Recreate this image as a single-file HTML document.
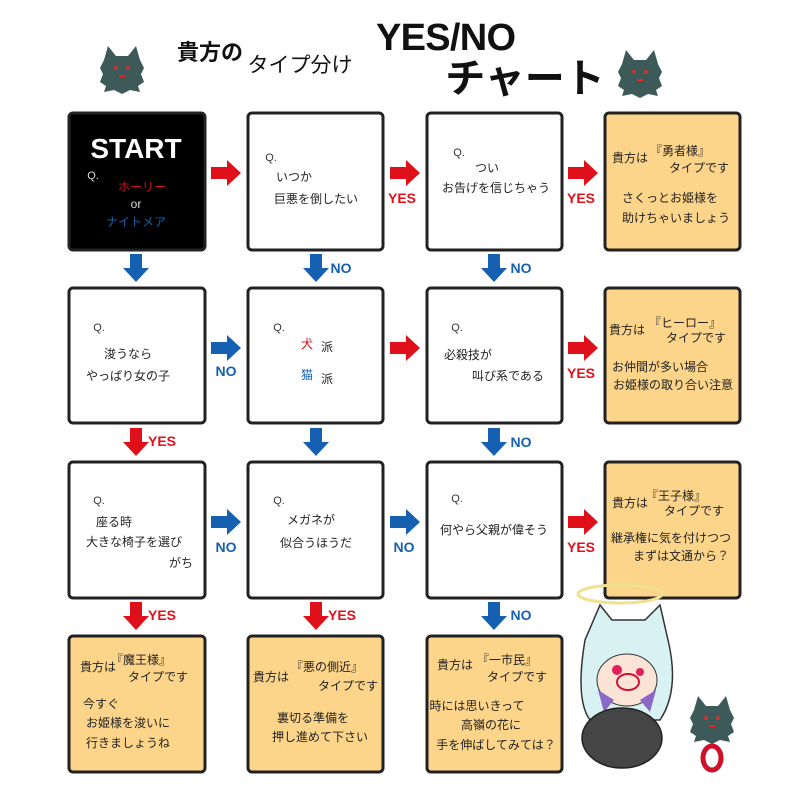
<!DOCTYPE html>
<html><head><meta charset="utf-8"><style>
html,body{margin:0;padding:0;background:#fff;}
svg{display:block}
text{font-family:"Liberation Sans","Noto Sans CJK JP",sans-serif;}
.t{font-size:12px;fill:#222;text-anchor:middle}
.q{font-size:11px;fill:#333;text-anchor:middle}
.y{font-size:14px;font-weight:bold;fill:#e0101a;text-anchor:middle}
.n{font-size:14px;font-weight:bold;fill:#1560b0;text-anchor:middle}
</style></head><body>
<svg width="800" height="800" viewBox="0 0 800 800" xmlns="http://www.w3.org/2000/svg">
<defs>
<g id="ar"><path d="M0,-6 H16 V-13 L30,0 L16,13 V6 H0 Z"/></g>
<g id="ad"><path d="M-6,0 V14 H-13 L0,28 L13,14 H6 V0 Z"/></g>
<g id="cat">
<path d="M-18,-12 L-14,-26 L-6,-16 L6,-16 L14,-26 L18,-12 L22,-4 L19,2 L22,10 L16,14 L18,20 L8,18 L0,22 L-8,18 L-18,20 L-16,14 L-22,10 L-19,2 L-22,-4 Z" fill="#3d5a58"/>
<circle cx="-6" cy="-4" r="2" fill="#c33"/><circle cx="6" cy="-4" r="2" fill="#c33"/>
<rect x="-3" y="3" width="6" height="2" fill="#e22"/>
</g>
</defs>
<!-- title -->
<text x="210" y="60" style="font-size:22px;font-weight:bold;text-anchor:middle;fill:#111">貴方の</text>
<text x="300" y="72" style="font-size:21px;text-anchor:middle;fill:#111">タイプ分け</text>
<text x="446" y="50" style="font-size:38px;font-weight:bold;text-anchor:middle;fill:#111" textLength="140">YES/NO</text>
<text x="525" y="92" style="font-size:40px;font-weight:bold;text-anchor:middle;fill:#111">チャート</text>
<use href="#cat" x="122" y="72"/>
<use href="#cat" x="640" y="76"/>
<use href="#cat" x="712" y="722"/>
<!-- boxes -->
<g stroke="#222" stroke-width="3">
<rect x="69" y="113" width="136" height="137" rx="4" fill="#000"/>
<rect x="248" y="113" width="135" height="137" rx="4" fill="#fff"/>
<rect x="427" y="113" width="135" height="137" rx="4" fill="#fff"/>
<rect x="605" y="113" width="135" height="137" rx="4" fill="#fcd48a"/>
<rect x="69" y="288" width="136" height="135" rx="4" fill="#fff"/>
<rect x="248" y="288" width="135" height="135" rx="4" fill="#fff"/>
<rect x="427" y="288" width="135" height="135" rx="4" fill="#fff"/>
<rect x="605" y="288" width="135" height="135" rx="4" fill="#fcd48a"/>
<rect x="69" y="462" width="136" height="136" rx="4" fill="#fff"/>
<rect x="248" y="462" width="135" height="136" rx="4" fill="#fff"/>
<rect x="427" y="462" width="135" height="136" rx="4" fill="#fff"/>
<rect x="605" y="462" width="135" height="136" rx="4" fill="#fcd48a"/>
<rect x="69" y="636" width="136" height="136" rx="4" fill="#fcd48a"/>
<rect x="248" y="636" width="135" height="136" rx="4" fill="#fcd48a"/>
<rect x="427" y="636" width="135" height="136" rx="4" fill="#fcd48a"/>
</g>
<!-- arrows -->
<g fill="#e0101a">
<use href="#ar" x="211" y="173"/><use href="#ar" x="390" y="173"/><use href="#ar" x="568" y="173"/>
<use href="#ar" x="390" y="348"/><use href="#ar" x="568" y="348"/>
<use href="#ar" x="568" y="522"/>
<use href="#ad" x="136" y="428"/>
<use href="#ad" x="136" y="602"/><use href="#ad" x="316" y="602"/>
</g>
<g fill="#1560b0">
<use href="#ad" x="136" y="254"/><use href="#ad" x="316" y="254"/><use href="#ad" x="494" y="254"/>
<use href="#ar" x="211" y="348"/>
<use href="#ad" x="316" y="428"/><use href="#ad" x="494" y="428"/>
<use href="#ar" x="211" y="522"/><use href="#ar" x="390" y="522"/>
<use href="#ad" x="494" y="602"/>
</g>
<text class="y" x="402" y="203">YES</text><text class="y" x="581" y="203">YES</text>
<text class="n" x="341" y="273">NO</text><text class="n" x="521" y="273">NO</text>
<text class="n" x="226" y="376">NO</text><text class="y" x="581" y="378">YES</text>
<text class="y" x="162" y="446">YES</text><text class="n" x="521" y="447">NO</text>
<text class="n" x="226" y="552">NO</text><text class="n" x="404" y="552">NO</text><text class="y" x="581" y="552">YES</text>
<text class="y" x="162" y="620">YES</text><text class="y" x="342" y="620">YES</text><text class="n" x="521" y="620">NO</text>
<!-- row1 -->
<text x="136" y="158" style="font-size:28px;font-weight:bold;fill:#fff;text-anchor:middle">START</text>
<text class="q" x="93" y="179" style="fill:#ddd">Q.</text>
<text class="t" x="142" y="191" style="fill:#d0101a">ホーリー</text>
<text class="t" x="136" y="208" style="fill:#ddd">or</text>
<text class="t" x="136" y="226" style="fill:#1560b0">ナイトメア</text>
<text class="q" x="271" y="161">Q.</text>
<text class="t" x="294" y="181">いつか</text>
<text class="t" x="316" y="203">巨悪を倒したい</text>
<text class="q" x="459" y="156">Q.</text>
<text class="t" x="487" y="172">つい</text>
<text class="t" x="496" y="192">お告げを信じちゃう</text>
<text class="t" x="630" y="162">貴方は</text>
<text class="t" x="680" y="155">『勇者様』</text>
<text class="t" x="699" y="172">タイプです</text>
<text class="t" x="670" y="202">さくっとお姫様を</text>
<text class="t" x="676" y="222">助けちゃいましょう</text>
<!-- row2 -->
<text class="q" x="99" y="331">Q.</text>
<text class="t" x="128" y="358">浚うなら</text>
<text class="t" x="128" y="380">やっぱり女の子</text>
<text class="q" x="279" y="331">Q.</text>
<text class="t" x="307" y="348" style="fill:#d0101a">犬</text><text class="t" x="327" y="351">派</text>
<text class="t" x="307" y="379" style="fill:#1560b0">猫</text><text class="t" x="327" y="383">派</text>
<text class="q" x="457" y="331">Q.</text>
<text class="t" x="468" y="359">必殺技が</text>
<text class="t" x="508" y="380">叫び系である</text>
<text class="t" x="627" y="334">貴方は</text>
<text class="t" x="685" y="327">『ヒーロー』</text>
<text class="t" x="696" y="342">タイプです</text>
<text class="t" x="660" y="371">お仲間が多い場合</text>
<text class="t" x="673" y="389">お姫様の取り合い注意</text>
<!-- row3 -->
<text class="q" x="99" y="504">Q.</text>
<text class="t" x="114" y="526">座る時</text>
<text class="t" x="134" y="546">大きな椅子を選び</text>
<text class="t" x="181" y="567">がち</text>
<text class="q" x="279" y="504">Q.</text>
<text class="t" x="311" y="524">メガネが</text>
<text class="t" x="316" y="547">似合うほうだ</text>
<text class="q" x="457" y="502">Q.</text>
<text class="t" x="494" y="534">何やら父親が偉そう</text>
<text class="t" x="630" y="507">貴方は</text>
<text class="t" x="676" y="500">『王子様』</text>
<text class="t" x="694" y="515">タイプです</text>
<text class="t" x="671" y="542">継承権に気を付けつつ</text>
<text class="t" x="681" y="560">まずは文通から？</text>
<!-- row4 -->
<text class="t" x="98" y="671">貴方は</text>
<text class="t" x="141" y="664">『魔王様』</text>
<text class="t" x="158" y="681">タイプです</text>
<text class="t" x="101" y="708">今すぐ</text>
<text class="t" x="128" y="727">お姫様を浚いに</text>
<text class="t" x="128" y="747">行きましょうね</text>
<text class="t" x="271" y="681">貴方は</text>
<text class="t" x="327" y="671">『悪の側近』</text>
<text class="t" x="348" y="690">タイプです</text>
<text class="t" x="313" y="722">裏切る準備を</text>
<text class="t" x="320" y="741">押し進めて下さい</text>
<text class="t" x="455" y="669">貴方は</text>
<text class="t" x="507" y="664">『一市民』</text>
<text class="t" x="517" y="681">タイプです</text>
<text class="t" x="477" y="710">時には思いきって</text>
<text class="t" x="491" y="729">高嶺の花に</text>
<text class="t" x="496" y="749">手を伸ばしてみては？</text>
<!-- character -->
<ellipse cx="620" cy="594" rx="42" ry="9" fill="none" stroke="#f0e090" stroke-width="3"/>
<path d="M585,640 Q575,700 590,720 L660,720 Q680,690 668,640 L660,605 L645,620 L612,620 L600,605 Z" fill="#d8f2f4" stroke="#333" stroke-width="1.5"/>
<ellipse cx="627" cy="680" rx="30" ry="26" fill="#fbe4d6" stroke="#333" stroke-width="1"/>
<circle cx="617" cy="670" r="5" fill="#e0205a"/><circle cx="640" cy="672" r="4" fill="#e0205a"/>
<ellipse cx="628" cy="682" rx="11" ry="8" fill="none" stroke="#d01030" stroke-width="2"/>
<path d="M598,690 L614,700 L604,712 Z" fill="#8a68c8"/><path d="M656,690 L640,700 L650,712 Z" fill="#8a68c8"/>
<ellipse cx="622" cy="738" rx="40" ry="30" fill="#454545" stroke="#222" stroke-width="1.5"/>
<ellipse cx="712" cy="758" rx="9" ry="12" fill="none" stroke="#d0102a" stroke-width="5"/>
</svg>
</body></html>
